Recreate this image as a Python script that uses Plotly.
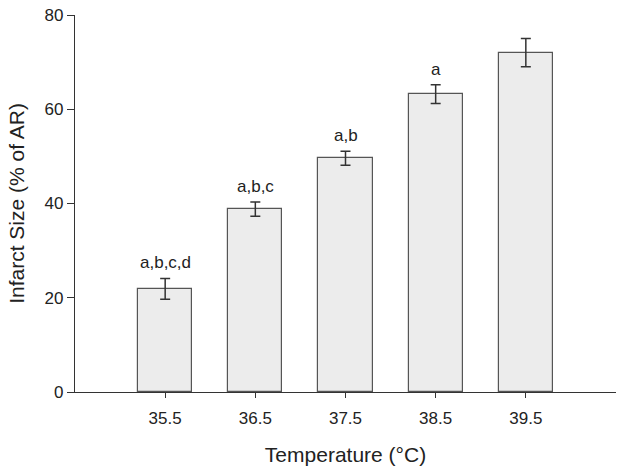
import plotly.graph_objects as go

temps = [35.5, 36.5, 37.5, 38.5, 39.5]
tick_labels = ["35.5", "36.5", "37.5", "38.5", "39.5"]
infarct = [21.9, 38.8, 49.6, 63.2, 72.0]
sem = [2.2, 1.5, 1.5, 2.0, 3.0]
letters = ["a,b,c,d", "a,b,c", "a,b", "a", ""]

font_family = "Liberation Sans, Arial, sans-serif"
ink = "#222222"

fig = go.Figure()
fig.add_trace(go.Bar(
    x=temps, y=infarct, width=0.6,
    marker=dict(color="#ececec", line=dict(color="#555555", width=1.2)),
    error_y=dict(type="data", array=sem, visible=True, color="#333333",
                 thickness=1.5, width=5),
    showlegend=False,
))

for t, v, e, lab in zip(temps, infarct, sem, letters):
    if lab:
        fig.add_annotation(x=t, y=v + e, text=lab, showarrow=False,
                           yanchor="bottom", yshift=4,
                           font=dict(size=17, color=ink, family=font_family))

fig.update_layout(
    width=624, height=472,
    margin=dict(l=75, r=8, t=15, b=80),
    paper_bgcolor="white", plot_bgcolor="white",
    font=dict(family=font_family, color=ink, size=16),
    bargap=0,
)
fig.update_xaxes(
    range=[34.5, 40.5], tickvals=temps, ticktext=tick_labels,
    ticks="outside", ticklen=5, tickwidth=1.2, tickcolor="#333333",
    showline=True, linecolor="#333333", linewidth=1.2,
    showgrid=False, zeroline=False, automargin=False,
    tickfont=dict(size=17), ticklabelstandoff=5,
    title=dict(text="Temperature (°C)", font=dict(size=21), standoff=20),
)
fig.update_yaxes(
    range=[0, 80], tickvals=[0, 20, 40, 60, 80],
    ticks="outside", ticklen=7, tickwidth=1.2, tickcolor="#333333",
    showline=True, linecolor="#333333", linewidth=1.2,
    showgrid=False, zeroline=False, automargin=False,
    tickfont=dict(size=17),
    title=dict(text="Infarct Size (% of AR)", font=dict(size=21), standoff=14),
)

fig.write_html("out.html", config={"displayModeBar": False},
               post_script="document.body.style.margin='0';document.body.style.overflow='hidden';")
